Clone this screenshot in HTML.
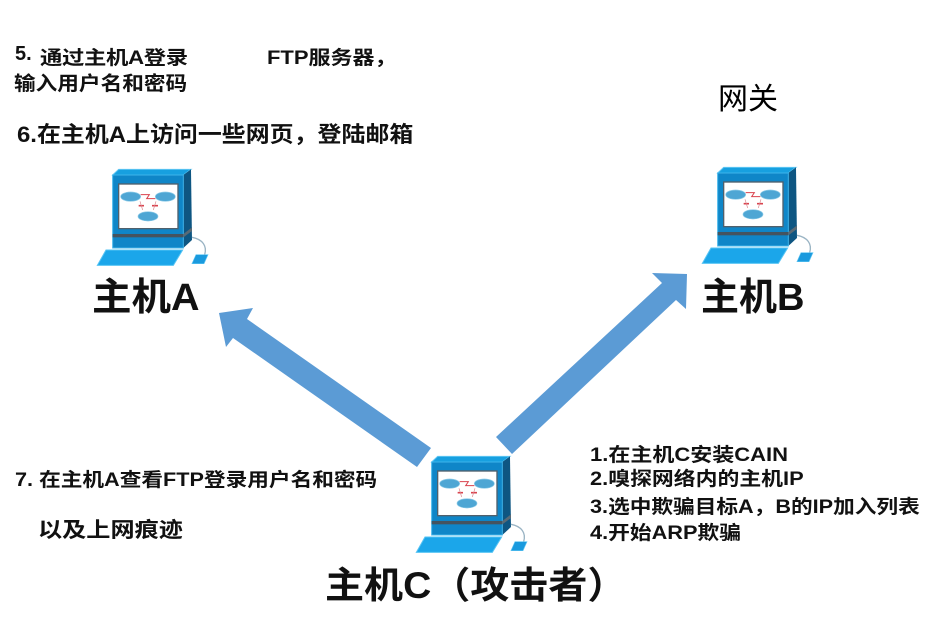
<!DOCTYPE html>
<html lang="zh">
<head>
<meta charset="utf-8">
<style>
html,body{margin:0;padding:0;background:#fff;}
#c{position:relative;width:940px;height:625px;overflow:hidden;background:#fff;font-family:"Liberation Sans","Noto Sans CJK SC",sans-serif;color:#111;filter:blur(.35px);}
.t{position:absolute;white-space:nowrap;font-weight:bold;line-height:1;transform-origin:0 50%;}
svg{position:absolute;left:0;top:0;}
</style>
</head>
<body>
<div id="c">
<svg width="940" height="625" viewBox="0 0 940 625">
<defs>
<g id="pc">
<path d="M68 45L86 28H303L280 45Z" fill="#17a0e0" stroke="#5cc4f2" stroke-width="3"/>
<path d="M280 45L303 28L306 240L280 264Z" fill="#0e5682"/>
<rect x="68" y="45" width="212" height="219" fill="#0f86c8" stroke="#3fb4ea" stroke-width="3"/>
<rect x="86" y="72" width="178" height="134" fill="#fff" stroke="#50606c" stroke-width="4"/>
<rect x="68" y="222" width="212" height="10" fill="#45545f"/>
<path d="M280 222L306 202V213L280 232Z" fill="#5a6a75"/>
<path d="M48 270H278L250 316H22Z" fill="#1ba6ea" stroke="#56c4f4" stroke-width="3"/>
<path d="M306 232C338 238 352 258 344 284" fill="none" stroke="#9ab4c4" stroke-width="4"/>
<path d="M318 284H354L342 311H306Z" fill="#1a9ade" stroke="#5cc4f2" stroke-width="2"/>
<ellipse cx="122" cy="110" rx="30" ry="14" fill="#4ea6d4" stroke="#8ccbe8" stroke-width="2"/>
<ellipse cx="226" cy="110" rx="30" ry="14" fill="#4ea6d4" stroke="#8ccbe8" stroke-width="2"/>
<ellipse cx="174" cy="169" rx="30" ry="14" fill="#4ea6d4" stroke="#8ccbe8" stroke-width="2"/>
<path d="M152 104H178L170 116H196" fill="none" stroke="#d9434e" stroke-width="3"/>
<path d="M146 137H162M186 137H204" fill="none" stroke="#d9434e" stroke-width="5"/>
<path d="M150 124L158 150M198 124L190 150" fill="none" stroke="#d9848c" stroke-width="2"/>
</g>
</defs>
<path d="M219 313L253 308L247 319L431 448L417 467L233 338L226 347Z" fill="#5b9bd5"/>
<path d="M687 274L652 273L662 283L496 437L512 454L676 300L686 309Z" fill="#5b9bd5"/>
<use href="#pc" transform="translate(90 160) scale(.3333)"/>
<use href="#pc" transform="translate(695 158) scale(.3333)"/>
<use href="#pc" transform="translate(409 447) scale(.3333)"/>
</svg>
<div class="t" style="left:15px;top:44px;font-size:20px;">5.</div>
<div class="t" style="left:40px;top:49px;font-size:19px;letter-spacing:-.3px;transform:scaleX(1.176);">通过主机A登录</div>
<div class="t" style="left:267px;top:49px;font-size:19px;transform:scaleX(1.157);">FTP服务器，</div>
<div class="t" style="left:14px;top:75px;font-size:19.5px;transform:scaleX(1.11);">输入用户名和密码</div>
<div class="t" style="left:17px;top:124px;font-size:22px;transform:scaleX(1.088);">6.在主机A上访问一些网页，登陆邮箱</div>
<div class="t" style="left:718px;top:85px;font-size:30px;font-weight:normal;color:#000;">网关</div>
<div class="t" style="left:92px;top:279px;font-size:38px;transform:scaleX(1.04);">主机A</div>
<div class="t" style="left:701px;top:279px;font-size:38px;">主机B</div>
<div class="t" style="left:15px;top:471px;font-size:19px;transform:scaleX(1.14);">7. 在主机A查看FTP登录用户名和密码</div>
<div class="t" style="left:38px;top:520px;font-size:21px;transform:scaleX(1.15);">以及上网痕迹</div>
<div class="t" style="left:590px;top:446px;font-size:19px;transform:scaleX(1.158);">1.在主机C安装CAIN</div>
<div class="t" style="left:590px;top:470px;font-size:19px;transform:scaleX(1.15);">2.嗅探网络内的主机IP</div>
<div class="t" style="left:590px;top:498px;font-size:19px;transform:scaleX(1.14);">3.选中欺骗目标A，B的IP加入列表</div>
<div class="t" style="left:590px;top:524px;font-size:19px;transform:scaleX(1.144);">4.开始ARP欺骗</div>
<div class="t" style="left:325px;top:567px;font-size:37px;transform:scaleX(1.055);">主机C（攻击者）</div>
</div>
</body>
</html>
